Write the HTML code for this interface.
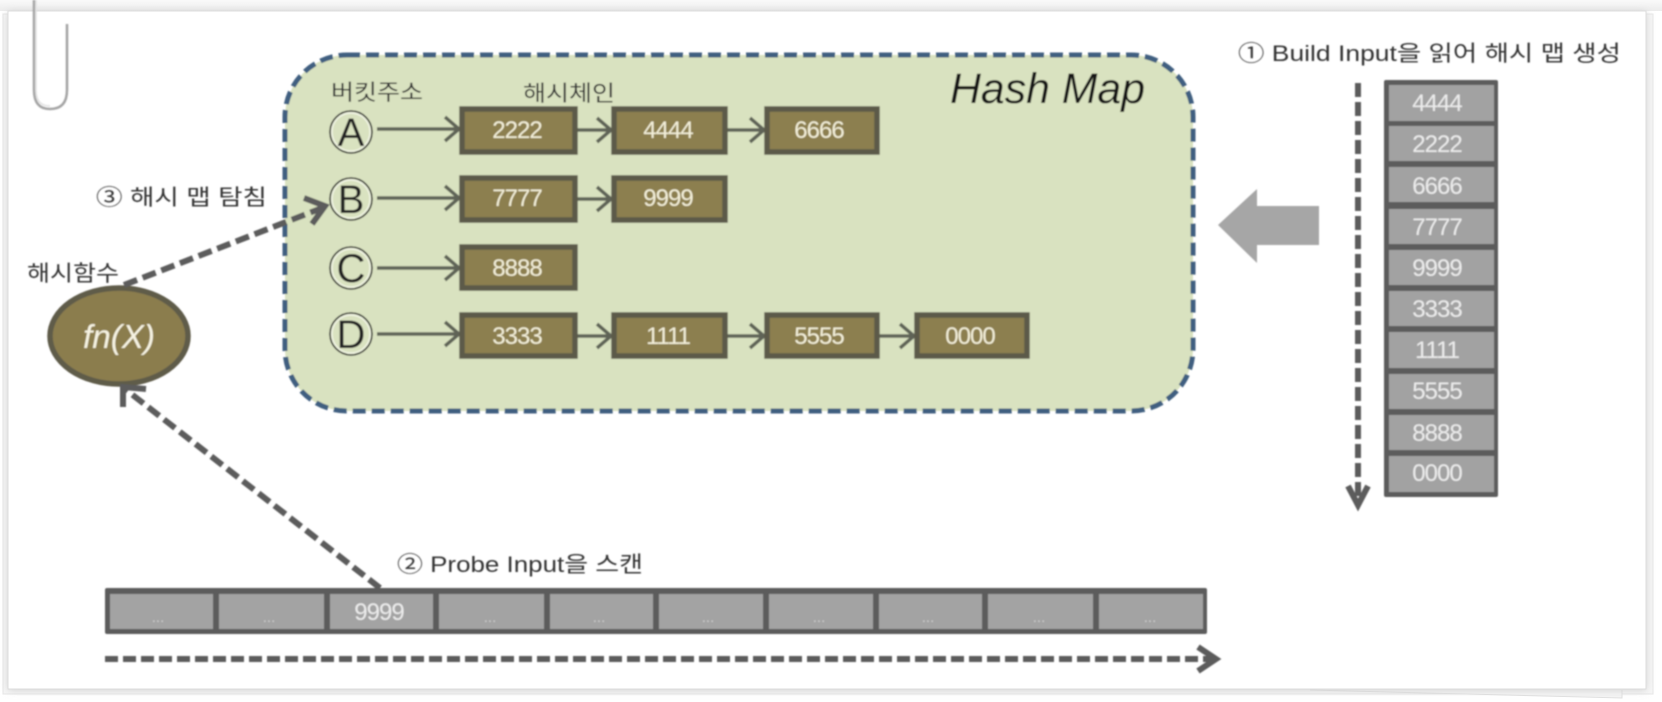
<!DOCTYPE html>
<html><head><meta charset="utf-8"><style>
html,body{margin:0;padding:0;background:#fff;width:1662px;height:702px;overflow:hidden}
svg{display:block;font-family:"Liberation Sans","Noto Sans CJK KR",sans-serif}
.d{letter-spacing:-1px}
</style></head><body>
<svg width="1662" height="702" viewBox="0 0 1662 702" xmlns="http://www.w3.org/2000/svg">
<defs>
<filter id="s" x="-5%" y="-5%" width="110%" height="110%"><feGaussianBlur stdDeviation="4"/></filter>
<filter id="b" x="-2%" y="-2%" width="104%" height="104%"><feGaussianBlur stdDeviation="0.8"/></filter>
<linearGradient id="top" x1="0" x2="0" y1="0" y2="1"><stop offset="0" stop-color="#fafafa"/><stop offset="1" stop-color="#ececec"/></linearGradient>
</defs>
<rect x="0" y="0" width="1662" height="702" fill="#fff"/>
<rect x="0" y="0" width="1662" height="11" fill="url(#top)"/>
<rect x="3" y="14" width="1650" height="680" fill="#f6f6f6" stroke="#e6e6e6"/>
<polyline points="1310,690 1622,698 1622,690" fill="#f4f4f4" stroke="#e0e0e0"/>
<rect x="8" y="12" width="1638" height="678" fill="#cfcfcf" filter="url(#s)"/>
<rect x="8" y="11" width="1638" height="678" fill="#fff" stroke="#dcdcdc"/>
<g filter="url(#b)">
<!-- paper clip -->
<path d="M34 0V90Q34 109 50 109Q67 109 67 90V24" fill="none" stroke="#a4a4a4" stroke-width="2.5"/>
<path d="M36 0V90Q36 106 50 106" fill="none" stroke="#e2e2e2" stroke-width="1.5"/>

<!-- Hash map -->
<rect x="285" y="55" width="908" height="356" rx="62" ry="62" fill="#d9e2c0" stroke="#3f5f80" stroke-width="5" stroke-dasharray="13 6"/>
<text x="950" y="103" font-size="43" font-style="italic" fill="#161616" textLength="195" lengthAdjust="spacingAndGlyphs">Hash Map</text>

<!-- labels -->
<g fill="#333" font-size="22">
<text x="331" y="100" textLength="92" lengthAdjust="spacingAndGlyphs">버킷주소</text>
<text x="523" y="101" textLength="92" lengthAdjust="spacingAndGlyphs">해시체인</text>
<text x="27" y="281" textLength="92" lengthAdjust="spacingAndGlyphs">해시함수</text>
<text x="96" y="205" textLength="171" lengthAdjust="spacingAndGlyphs">③ 해시 맵 탐침</text>
<text x="1238" y="61" textLength="383" lengthAdjust="spacingAndGlyphs">① Build Input을 읽어 해시 맵 생성</text>
<text x="397" y="572" textLength="246" lengthAdjust="spacingAndGlyphs">② Probe Input을 스캔</text>
</g>

<!-- thin connectors -->
<g fill="none" stroke="#5f6357" stroke-width="3.5">
<path d="M377 129H458M445 117L459 129L445 141"/>
<path d="M577 130H610M597 118L611 130L597 142"/>
<path d="M727 130H763M750 118L764 130L750 142"/>
<path d="M377 198H458M445 186L459 198L445 210"/>
<path d="M577 199H610M597 187L611 199L597 211"/>
<path d="M377 268H458M445 256L459 268L445 280"/>
<path d="M377 334H458M445 322L459 334L445 346"/>
<path d="M577 336H610M597 324L611 336L597 348"/>
<path d="M727 336H763M750 324L764 336L750 348"/>
<path d="M879 336H913M900 324L914 336L900 348"/>
</g>

<!-- bucket circles -->
<g fill="#d9e2c0" stroke="#2e2e2e" stroke-width="1.6">
<circle cx="351" cy="132" r="21"/><circle cx="351" cy="199" r="21"/><circle cx="351" cy="268" r="21"/><circle cx="351" cy="334" r="21"/>
</g>
<g fill="none" stroke="#f2f5e6" stroke-width="1.4">
<circle cx="351" cy="132" r="19"/><circle cx="351" cy="199" r="19"/><circle cx="351" cy="268" r="19"/><circle cx="351" cy="334" r="19"/>
</g>
<g font-size="40" fill="#222" text-anchor="middle">
<text x="351" y="146">A</text><text x="351" y="213">B</text><text x="351" y="282">C</text><text x="351" y="348">D</text>
</g>

<!-- chain boxes -->
<g fill="#8c7f4f" stroke="#5c5a4a" stroke-width="5.5">
<rect x="462" y="109" width="113" height="43"/><rect x="614" y="109" width="111" height="43"/><rect x="767" y="109" width="110" height="43"/>
<rect x="462" y="178" width="113" height="42"/><rect x="614" y="178" width="111" height="42"/>
<rect x="462" y="247" width="113" height="41"/>
<rect x="462" y="315" width="113" height="41"/><rect x="614" y="315" width="111" height="41"/><rect x="767" y="315" width="110" height="41"/><rect x="917" y="315" width="110" height="41"/>
</g>
<g class="d" font-size="24" fill="#f3efd9" text-anchor="middle">
<text x="517" y="138">2222</text><text x="668" y="138">4444</text><text x="819" y="138">6666</text>
<text x="517" y="206">7777</text><text x="668" y="206">9999</text>
<text x="517" y="276">8888</text>
<text x="517" y="344">3333</text><text x="668" y="344">1111</text><text x="819" y="344">5555</text><text x="970" y="344">0000</text>
</g>

<!-- hash fn -->
<ellipse cx="119" cy="336" rx="69" ry="48" fill="#8b7d4e" stroke="#5f5c4a" stroke-width="5.5"/>
<text x="83" y="348" font-size="33" font-style="italic" fill="#f6f3e2" textLength="72" lengthAdjust="spacingAndGlyphs">fn(X)</text>

<!-- dashed arrows -->
<g fill="none" stroke="#5c5c5c" stroke-width="6">
<path d="M124 285L322 208" stroke-dasharray="14 6"/>
<path d="M304 198L325 206L312 224"/>
<path d="M380 588L125 389" stroke-dasharray="14 6"/>
<path d="M123 407L123 387L146 389"/>
<path d="M1358 83V504" stroke-dasharray="14 5"/>
<path d="M1348 486L1358 505L1368 486"/>
<path d="M105 659H1214" stroke-dasharray="13 5"/>
<path d="M1198 647L1216 659L1198 671"/>
</g>

<!-- big arrow -->
<path d="M1218 225L1257 189V206H1319V245H1257V263Z" fill="#a6a6a6"/>

<!-- build stack -->
<rect x="1384" y="80" width="114" height="417" rx="2" fill="#5c5c5c"/>
<g fill="#a2a2a2">
<rect x="1389" y="85" width="105" height="36"/>
<rect x="1389" y="126" width="105" height="35"/>
<rect x="1389" y="167" width="105" height="35"/>
<rect x="1389" y="209" width="105" height="35"/>
<rect x="1389" y="250" width="105" height="35"/>
<rect x="1389" y="291" width="105" height="35"/>
<rect x="1389" y="332" width="105" height="36"/>
<rect x="1389" y="374" width="105" height="35"/>
<rect x="1389" y="415" width="105" height="35"/>
<rect x="1389" y="456" width="105" height="36"/>
</g>
<g class="d" font-size="24" fill="#ececec" text-anchor="middle">
<text x="1437" y="111">4444</text><text x="1437" y="152">2222</text><text x="1437" y="194">6666</text><text x="1437" y="235">7777</text><text x="1437" y="276">9999</text>
<text x="1437" y="317">3333</text><text x="1437" y="358">1111</text><text x="1437" y="399">5555</text><text x="1437" y="441">8888</text><text x="1437" y="481">0000</text>
</g>

<!-- probe row -->
<rect x="105" y="588" width="1102" height="46" rx="2" fill="#5c5c5c"/>
<g fill="#a3a3a3">
<rect x="110" y="594" width="103" height="35"/><rect x="219" y="594" width="105" height="35"/><rect x="330" y="594" width="103" height="35"/>
<rect x="439" y="594" width="105" height="35"/><rect x="550" y="594" width="103" height="35"/><rect x="659" y="594" width="104" height="35"/>
<rect x="769" y="594" width="104" height="35"/><rect x="879" y="594" width="103" height="35"/><rect x="988" y="594" width="105" height="35"/><rect x="1099" y="594" width="104" height="35"/>
</g>
<text class="d" x="379" y="620" font-size="24" fill="#ececec" text-anchor="middle">9999</text>
<g font-size="15" fill="#cfcfcf" text-anchor="middle">
<text x="158" y="622">...</text><text x="269" y="622">...</text><text x="490" y="622">...</text><text x="599" y="622">...</text><text x="708" y="622">...</text>
<text x="819" y="622">...</text><text x="928" y="622">...</text><text x="1039" y="622">...</text><text x="1150" y="622">...</text>
</g>
</g>
</svg>
</body></html>
